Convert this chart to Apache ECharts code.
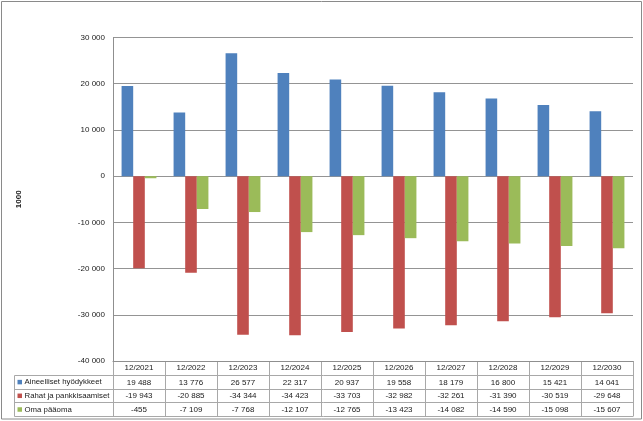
<!DOCTYPE html>
<html>
<head>
<meta charset="utf-8">
<script src="https://cdn.jsdelivr.net/npm/echarts@6/dist/echarts.min.js"></script>
<style>
html,body{margin:0;padding:0;background:#fff;}
#chart{width:643px;height:421px;}
</style>
</head>
<body>
<div id="chart"></div>
<script>
const categories = ['12/2021','12/2022','12/2023','12/2024','12/2025','12/2026','12/2027','12/2028','12/2029','12/2030'];
const aineelliset = [19488, 13776, 26577, 22317, 20937, 19558, 18179, 16800, 15421, 14041];
const rahat = [-19943, -20885, -34344, -34423, -33703, -32982, -32261, -31390, -30519, -29648];
const omaPaaoma = [-455, -7109, -7768, -12107, -12765, -13423, -14082, -14590, -15098, -15607];
const seriesNames = ['Aineelliset hyödykkeet', 'Rahat ja pankkisaamiset', 'Oma pääoma'];
const seriesColors = ['#4F81BD', '#C0504D', '#9BBB59'];
const yMin = -40000, yMax = 30000, yStep = 10000;
const yAxisTitle = '1000';

const FONT = 'Liberation Sans, Arial, sans-serif';
const TXT = '#1a1a1a';

function fmt(v) {
  const s = String(Math.abs(Math.round(v))).replace(/\B(?=(\d{3})+(?!\d))/g, ' ');
  return (v < 0 ? '-' : '') + s;
}

const chart = echarts.init(document.getElementById('chart'), null, {renderer: 'canvas'});
const allSeries = [aineelliset, rahat, omaPaaoma];

chart.setOption({
  animation: false,
  backgroundColor: '#fff',
  textStyle: {fontFamily: FONT},
  grid: {left: 113, right: 10, top: 37.5, bottom: 60, containLabel: false},
  xAxis: {
    type: 'category',
    data: categories,
    axisLine: {show: true, onZero: false, lineStyle: {color: '#8f8f8f', width: 1}},
    axisTick: {show: false},
    axisLabel: {show: true, margin: 3, fontSize: 8, color: TXT, fontFamily: FONT, interval: 0},
    splitLine: {show: false}
  },
  yAxis: {
    type: 'value',
    min: yMin, max: yMax, interval: yStep,
    name: yAxisTitle,
    nameLocation: 'middle',
    nameRotate: 90,
    nameGap: 90,
    nameTextStyle: {fontSize: 8, fontWeight: 'bold', color: TXT, fontFamily: FONT},
    axisLine: {show: true, lineStyle: {color: '#8f8f8f'}},
    axisTick: {show: false},
    axisLabel: {fontSize: 8, color: TXT, margin: 8, fontFamily: FONT, formatter: v => fmt(v)},
    splitLine: {show: true, lineStyle: {color: '#949494', width: 1}}
  },
  series: allSeries.map((d, i) => ({
    type: 'bar',
    name: seriesNames[i],
    data: d,
    barGap: '0%',
    barCategoryGap: '33%',
    itemStyle: {color: seriesColors[i]}
  }))
});

// Build the data table under the plot from the axis scales
function buildTable() {
  const n = categories.length;
  const c0 = chart.convertToPixel({xAxisIndex: 0}, 0);
  const c1 = chart.convertToPixel({xAxisIndex: 0}, 1);
  const band = c1 - c0;
  const left = c0 - band / 2;
  const right = left + band * n;
  const top = chart.convertToPixel({yAxisIndex: 0}, yMin);
  const headH = 14;
  const rowH = 13.7;
  const legendLeft = 14.5;
  const lineColor = '#a8a8a8';
  const els = [];
  const L = (x1, y1, x2, y2) => els.push({
    type: 'line', silent: true,
    shape: {x1: x1, y1: y1, x2: x2, y2: y2},
    style: {stroke: lineColor, lineWidth: 1}
  });
  const rowTop = r => top + headH + r * rowH;
  const bottom = rowTop(allSeries.length);
  for (let r = 0; r <= allSeries.length; r++) {
    const y = Math.round(rowTop(r)) + 0.5;
    L(legendLeft, y, right, y);
  }
  for (let k = 0; k <= n; k++) {
    const x = Math.round(left + k * band) + 0.5;
    L(x, top, x, Math.round(bottom) + 0.5);
  }
  L(legendLeft, Math.round(rowTop(0)) + 0.5, legendLeft, Math.round(bottom) + 0.5);
  allSeries.forEach((d, r) => {
    const yc = rowTop(r) + rowH / 2 + 0.5;
    d.forEach((v, i) => {
      els.push({
        type: 'text', silent: true,
        x: chart.convertToPixel({xAxisIndex: 0}, i), y: yc,
        style: {text: fmt(v), fontSize: 8, fontFamily: FONT, fill: TXT, align: 'center', verticalAlign: 'middle'}
      });
    });
    els.push({
      type: 'rect', silent: true,
      shape: {x: legendLeft + 3, y: yc - 2.5, width: 4.5, height: 4.5},
      style: {fill: seriesColors[r]}
    });
    els.push({
      type: 'text', silent: true,
      x: legendLeft + 10, y: yc,
      style: {text: seriesNames[r], fontSize: 7.8, fontFamily: FONT, fill: TXT, align: 'left', verticalAlign: 'middle'}
    });
  });
  els.push({
    type: 'rect', silent: true,
    shape: {x: 1.5, y: 1.5, width: 640, height: 417.5},
    style: {fill: 'none', stroke: '#8a8a8a', lineWidth: 1}
  });
  chart.setOption({graphic: {elements: els}});
}
buildTable();
</script>
</body>
</html>
